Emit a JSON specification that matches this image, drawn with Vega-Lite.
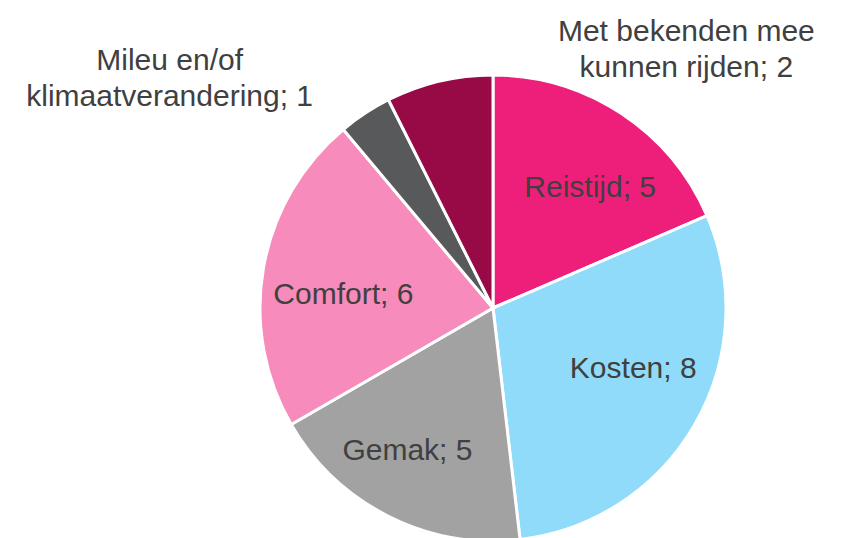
{
  "$schema": "https://vega.github.io/schema/vega-lite/v6.json",
  "width": 466,
  "height": 466,
  "autosize": {"type": "none"},
  "padding": {"left": 260, "top": 75, "right": 119, "bottom": 0},
  "background": "white",
  "config": {"view": {"stroke": null}},
  "data": {
    "values": [
      {"cat": "Reistijd", "value": 5, "order": 1, "label": "Reistijd; 5"},
      {"cat": "Kosten", "value": 8, "order": 2, "label": "Kosten; 8"},
      {"cat": "Gemak", "value": 5, "order": 3, "label": "Gemak; 5"},
      {"cat": "Comfort", "value": 6, "order": 4, "label": "Comfort; 6"},
      {"cat": "Mileu en/of klimaatverandering", "value": 1, "order": 5, "label": "Mileu en/of\nklimaatverandering; 1"},
      {"cat": "Met bekenden mee kunnen rijden", "value": 2, "order": 6, "label": "Met bekenden mee\nkunnen rijden; 2"}
    ]
  },
  "encoding": {
    "theta": {"field": "value", "type": "quantitative", "stack": true},
    "order": {"field": "order", "type": "quantitative"}
  },
  "layer": [
    {
      "mark": {"type": "arc", "stroke": "white", "strokeWidth": 3},
      "encoding": {
        "color": {
          "field": "cat",
          "type": "nominal",
          "scale": {
            "domain": ["Reistijd", "Kosten", "Gemak", "Comfort", "Mileu en/of klimaatverandering", "Met bekenden mee kunnen rijden"],
            "range": ["#ED1F7B", "#8FDBF9", "#A2A2A2", "#F78BBB", "#58595B", "#970A46"]
          },
          "legend": null
        }
      }
    },
    {
      "mark": {"type": "text", "radius": 155, "dx": 12, "dy": 10, "fontSize": 30, "font": "Liberation Sans", "color": "#404040", "baseline": "middle", "align": "center"},
      "encoding": {"text": {"condition": {"test": "datum.cat === 'Reistijd'", "field": "label", "type": "nominal"}, "value": ""}}
    },
    {
      "mark": {"type": "text", "radius": 155, "dx": 6, "dy": -17, "fontSize": 30, "font": "Liberation Sans", "color": "#404040", "baseline": "middle", "align": "center"},
      "encoding": {"text": {"condition": {"test": "datum.cat === 'Kosten'", "field": "label", "type": "nominal"}, "value": ""}}
    },
    {
      "mark": {"type": "text", "radius": 155, "dx": -16, "dy": 4, "fontSize": 30, "font": "Liberation Sans", "color": "#404040", "baseline": "middle", "align": "center"},
      "encoding": {"text": {"condition": {"test": "datum.cat === 'Gemak'", "field": "label", "type": "nominal"}, "value": ""}}
    },
    {
      "mark": {"type": "text", "radius": 155, "dx": 3, "dy": 14, "fontSize": 30, "font": "Liberation Sans", "color": "#404040", "baseline": "middle", "align": "center"},
      "encoding": {"text": {"condition": {"test": "datum.cat === 'Comfort'", "field": "label", "type": "nominal"}, "value": ""}}
    },
    {
      "mark": {"type": "text", "radius": 250, "dx": -186, "dy": -38, "fontSize": 30, "lineHeight": 36, "lineBreak": "\n", "font": "Liberation Sans", "color": "#404040", "baseline": "middle", "align": "center"},
      "encoding": {"text": {"condition": {"test": "datum.order === 5", "field": "label", "type": "nominal"}, "value": ""}}
    },
    {
      "mark": {"type": "text", "radius": 250, "dx": 251, "dy": -33, "fontSize": 30, "lineHeight": 36, "lineBreak": "\n", "font": "Liberation Sans", "color": "#404040", "baseline": "middle", "align": "center"},
      "encoding": {"text": {"condition": {"test": "datum.order === 6", "field": "label", "type": "nominal"}, "value": ""}}
    }
  ]
}
